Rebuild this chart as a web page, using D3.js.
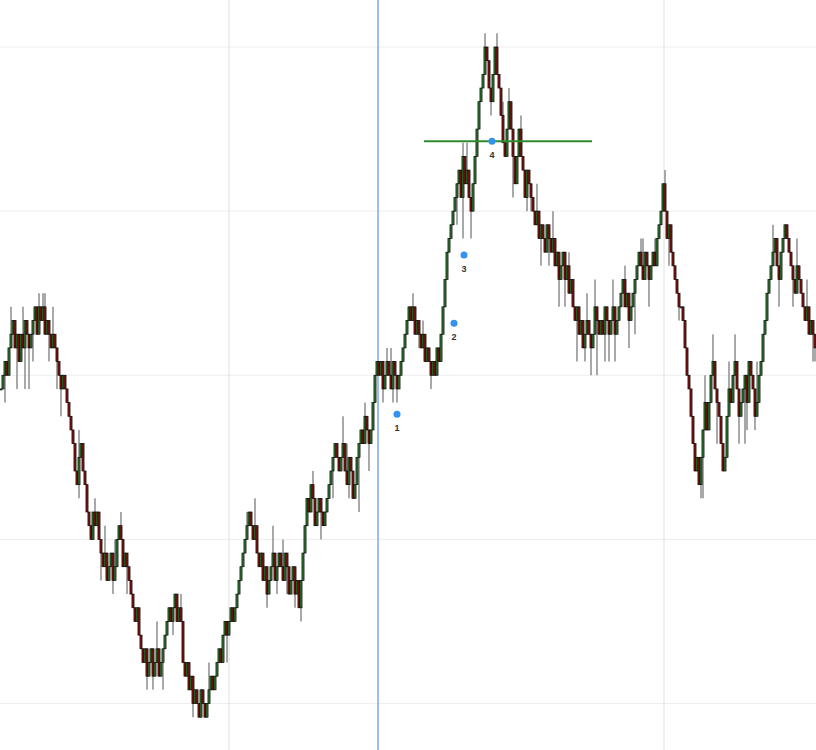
<!DOCTYPE html>
<html><head><meta charset="utf-8">
<script src="https://cdn.jsdelivr.net/npm/d3@7/dist/d3.min.js"></script>
<style>html,body{margin:0;padding:0;background:#fff;overflow:hidden}</style>
</head><body>
<svg id="chart" width="816" height="750"></svg>
<script>
// brick levels (price in brick units)
const startOpen = -1;
const closes = [
 -1,0,1,0,2,  3,4,2,3,1,  3,2,4,3,2,  3,4,5,3,5,  4,5,3,4,3,
 2,3,2,1,0,  -1,0,-1,-2,-3,  -4,-5,-7,-8,-6,  -5,-7,-8,-10,-11,  -12,-10,-11,-10,-12,
 -13,-14,-13,-15,-14,  -13,-15,-14,-12,-11,  -12,-14,-13,-14,-15,  -16,-17,-18,-17,-19,  -20,-21,-20,-22,-21,
 -20,-22,-21,-20,-22,  -21,-20,-19,-18,-17,  -18,-17,-16,-18,-17,  -18,-21,-22,-21,-23,  -22,-24,-23,-24,-25,
 -23,-24,-25,-24,-23,  -22,-23,-22,-21,-20,  -21,-19,-18,-19,-18,  -17,-18,-17,-16,-15,  -14,-13,-12,-11,-10,
 -11,-12,-11,-13,-14,  -13,-15,-14,-16,-15,  -14,-13,-15,-14,-13,  -14,-15,-13,-14,-16,  -15,-14,-16,-15,-17,
 -15,-13,-11,-9,-10,  -8,-9,-11,-10,-9,  -10,-11,-10,-9,-8,  -7,-6,-5,-6,-7,  -6,-5,-7,-8,-6,
 -7,-9,-8,-6,-5,  -4,-5,-3,-4,-5,  -4,-2,0,1,0,  1,-1,0,1,0,  -1,1,0,-1,0,
 1,2,3,4,5,  4,5,3,4,3,  2,3,1,2,1,  0,1,0,2,1,  3,5,7,9,10,
 11,12,13,14,15,  13,16,14,15,13,  12,14,16,18,20,  21,22,24,23,21,  20,22,24,22,21,
 19,17,16,18,20,  18,16,14,16,18,  16,15,13,15,14,  13,12,11,12,10,  11,10,9,11,10,
 9,10,8,9,7,  8,9,7,8,6,  7,5,4,5,3,  4,2,3,4,3,  2,3,5,4,3,
 4,3,5,4,3,  4,5,3,4,5,  6,7,5,6,4,  5,6,7,8,9,  8,7,9,8,7,
 8,9,8,10,11,  12,14,12,10,11,  9,8,7,6,5,  5,4,2,0,-1,  -3,-5,-7,-6,-8,
 -6,-4,-2,-4,-2,  0,1,-1,-2,-3,  -5,-7,-6,-3,-1,  -2,0,1,-1,-3,  -2,-1,0,-2,1,
 0,-1,-3,-2,0,  1,3,4,6,7,  8,9,10,8,7,  9,10,11,10,9,  8,7,6,8,7,
 6,5,4,5,3,  4,3,2
];
const wickHiIdx = [5,11,19,21,22,26,39,47,52,57,60,78,87,90,104,123,127,136,141,156,171,173,182,193,195,206,211,231,233,242,248,251,254,260,268,276,284,293,297,306,312,320,321,327,332,352,356,364,367,378,386,393,398,403];
const wickHiLv  = [5,5,6,6,6,5,-4,-9,-11,-12,-10,-18,-16,-16,-21,-10,-9,-11,-12,-7,-3,-5,-2,2,2,6,4,17,17,25,25,20,21,19,14,12,9,6,7,7,8,10,10,10,15,0,3,1,3,1,11,11,10,7];
const wickLoIdx = [2,8,12,14,16,24,28,30,39,50,56,63,73,76,81,86,96,102,113,133,138,143,147,150,160,166,174,179,184,191,196,198,209,215,228,231,235,245,256,263,265,270,274,279,282,288,292,295,298,302,304,307,314,317,324,334,339,350,351,358,362,369,372,373,377,389,396,406,407];
const wickLoLv  = [-2,-1,-1,-1,1,1,-1,-3,-9,-15,-16,-16,-23,-23,-23,-19,-25,-25,-21,-17,-16,-16,-17,-18,-12,-9,-9,-10,-7,-2,-2,-2,2,-1,11,10,10,19,13,12,12,8,8,5,5,1,1,0,0,1,1,1,2,3,5,8,4,-9,-9,-5,-7,-5,-5,-4,-4,5,5,1,1];

const gridLevels = [-24,-12,0,12,24];
const vGridIdx = [114, 331.5];
const cursorIdx = 188.5;
const markIdx = [198, 226.5, 231.5, 245.5];
const markLv = [-2.85, 3.8, 8.8, 17.1];
const markLabels = ["1","2","3","4"];
const levelLineLv = 17.1, levelLineFrom = 211.5, levelLineTo = 295.5;

const W = 816, H = 750;
const svg = d3.select("#chart");
const x = d3.scaleLinear().domain([-0.5, closes.length - 0.5]).range([0, W]);
const y = d3.scaleLinear().domain([-24, 24]).range([703.5, 47]);

const hiMap = new Map(wickHiIdx.map((d,i)=>[d, wickHiLv[i]]));
const loMap = new Map(wickLoIdx.map((d,i)=>[d, wickLoLv[i]]));
const candles = closes.map((c,i)=>{
  const o = i === 0 ? startOpen : closes[i-1];
  let hi = Math.max(o,c), lo = Math.min(o,c);
  if (hiMap.has(i)) hi = Math.max(hi, hiMap.get(i));
  if (loMap.has(i)) lo = Math.min(lo, loMap.get(i));
  return {i, o, c, hi, lo};
});

// grid
svg.append("g").selectAll("line").data(gridLevels).join("line")
  .attr("x1",0).attr("x2",W).attr("y1",d=>y(d)).attr("y2",d=>y(d))
  .attr("stroke","#ededed").attr("stroke-width",1);
svg.append("g").selectAll("line").data(vGridIdx).join("line")
  .attr("x1",d=>x(d)).attr("x2",d=>x(d)).attr("y1",0).attr("y2",H)
  .attr("stroke","#e0e0e0").attr("stroke-width",1);

// cursor line
svg.append("line").attr("x1",x(cursorIdx)).attr("x2",x(cursorIdx)).attr("y1",0).attr("y2",H)
  .attr("stroke","#7aa7f5").attr("stroke-width",1.5);

const bw = 2.1;
const g = svg.append("g");
g.selectAll("line.w").data(candles).join("line").attr("class","w")
  .attr("x1",d=>x(d.i)).attr("x2",d=>x(d.i)).attr("y1",d=>y(d.hi)).attr("y2",d=>y(d.lo))
  .attr("stroke","#8c8c8c").attr("stroke-width",1.5);
g.selectAll("rect.b").data(candles).join("rect").attr("class","b")
  .attr("x",d=>x(d.i)-bw/2).attr("width",bw)
  .attr("y",d=>y(Math.max(d.o,d.c))).attr("height",d=>Math.max(1, Math.abs(y(d.o)-y(d.c))))
  .attr("fill",d=>d.c>=d.o ? "#2a7d2a" : "#8b1010")
  .attr("stroke","#0a0a0a").attr("stroke-width",0.7);

// level line
svg.append("line").attr("x1",x(levelLineFrom)).attr("x2",x(levelLineTo))
  .attr("y1",y(levelLineLv)).attr("y2",y(levelLineLv))
  .attr("stroke","#2e8b2e").attr("stroke-width",2);

// markers
const mk = svg.append("g").selectAll("g").data(markIdx.map((d,i)=>({i:d, lv:markLv[i], t:markLabels[i]}))).join("g");
mk.append("circle").attr("cx",d=>x(d.i)).attr("cy",d=>y(d.lv)).attr("r",3.5).attr("fill","#3392ee");
mk.append("text").attr("x",d=>x(d.i)).attr("y",d=>y(d.lv)+17).attr("text-anchor","middle")
  .attr("font-family","Liberation Sans, Arial, sans-serif").attr("font-size",9).attr("font-weight","bold")
  .attr("fill","#333").text(d=>d.t);
</script>
</body></html>
